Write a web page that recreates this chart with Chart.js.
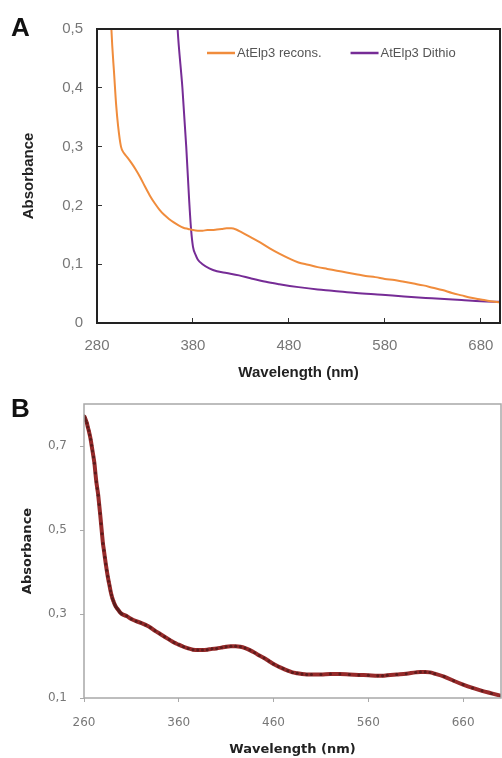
<!DOCTYPE html>
<html>
<head>
<meta charset="utf-8">
<script src="https://cdn.jsdelivr.net/npm/chart.js@4.4.1/dist/chart.umd.min.js"></script>
<style>
  html, body { margin: 0; padding: 0; background: #fff; }
  #page { position: relative; width: 502px; height: 758px; overflow: hidden; }
  .panel { position: absolute; left: 0; }
  .letter { position: absolute; left: 11px; font: bold 26px "Liberation Sans", Arial, sans-serif; color: #111; }
</style>
</head>
<body>
<div id="page">
  <canvas id="chartA" class="panel" width="502" height="384" style="top:0"></canvas>
  <canvas id="chartB" class="panel" width="502" height="374" style="top:384px"></canvas>
  <div class="letter" style="top:12px">A</div>
  <div class="letter" style="top:393px">B</div>
</div>
<script>
// ---- panel A data ----
var waveRecons = [290, 295, 298, 300, 302, 305, 308, 312, 316, 320, 325, 330, 335, 340, 345, 350, 355, 360, 365, 370,
  375, 380, 385, 390, 395, 400, 405, 410, 415, 420, 425, 430, 440, 450, 460, 470, 480, 490, 500, 510,
  520, 530, 540, 550, 560, 570, 580, 590, 600, 610, 620, 630, 640, 650, 660, 670, 680, 690, 700];
var absRecons = [0.75, 0.50, 0.42, 0.37, 0.335, 0.300, 0.289, 0.281, 0.272, 0.262, 0.248, 0.232, 0.217, 0.204, 0.193, 0.184, 0.177, 0.171, 0.166, 0.162,
  0.160, 0.158, 0.157, 0.157, 0.158, 0.158, 0.159, 0.160, 0.161, 0.161, 0.159, 0.155, 0.146, 0.137, 0.127, 0.118, 0.110, 0.103, 0.099, 0.095,
  0.092, 0.089, 0.086, 0.083, 0.080, 0.078, 0.075, 0.073, 0.070, 0.067, 0.064, 0.060, 0.056, 0.051, 0.047, 0.043, 0.040, 0.037, 0.035];

var waveDithio = [358, 364, 369, 373, 376, 378, 380, 383, 385, 390, 397, 405, 415, 428, 440, 456, 470, 490, 510, 525,
  550, 577, 600, 629, 660, 680, 700];
var absDithio = [0.70, 0.50, 0.40, 0.30, 0.21, 0.16, 0.13, 0.115, 0.108, 0.100, 0.093, 0.088, 0.085, 0.081, 0.076, 0.070, 0.066, 0.061, 0.057, 0.055,
  0.051, 0.048, 0.045, 0.042, 0.039, 0.037, 0.036];

var xTicksA = [280, 380, 480, 580, 680];
var yTicksA = [0, 0.1, 0.2, 0.3, 0.4, 0.5];

// ---- panel B data ----
var waveB = [260, 261, 262, 263, 264, 265, 266, 267, 268, 269, 270, 271, 272, 273, 274, 275, 276, 277, 278, 279,
  280, 281, 282, 283, 284, 285, 286, 287, 288, 289, 290, 291, 292, 293, 294, 295, 296, 297, 298, 299, 300,
  305, 310, 315, 320, 325, 330, 335, 340, 345, 350, 355, 360, 365, 370, 375, 380, 385, 390, 395,
  400, 405, 410, 415, 420, 425, 430, 435, 440, 445, 450, 455, 460, 465, 470, 475, 480, 485, 490, 495,
  500, 510, 520, 530, 540, 550, 560, 570, 575, 580, 590, 600, 610, 615, 620, 625, 630, 640, 650, 660,
  670, 680, 690, 700];
var absB = [0.772, 0.767, 0.761, 0.755, 0.745, 0.737, 0.727, 0.716, 0.702, 0.688, 0.674, 0.659, 0.636, 0.615, 0.599, 0.583, 0.561, 0.539, 0.515, 0.491,
  0.468, 0.452, 0.435, 0.419, 0.404, 0.390, 0.378, 0.367, 0.355, 0.345, 0.337, 0.331, 0.325, 0.320, 0.316, 0.313, 0.310, 0.307, 0.304, 0.302, 0.300,
  0.295, 0.288, 0.283, 0.279, 0.274, 0.268, 0.260, 0.253, 0.246, 0.239, 0.232, 0.227, 0.222, 0.218, 0.215, 0.214, 0.214, 0.215, 0.217,
  0.218, 0.220, 0.222, 0.223, 0.223, 0.222, 0.219, 0.214, 0.208, 0.201, 0.195, 0.188, 0.181, 0.175, 0.170, 0.165, 0.161, 0.159, 0.157, 0.156,
  0.156, 0.156, 0.157, 0.157, 0.156, 0.155, 0.154, 0.153, 0.153, 0.154, 0.156, 0.158, 0.161, 0.162, 0.162, 0.161, 0.158, 0.151, 0.141, 0.132,
  0.124, 0.117, 0.111, 0.105];

var xTicksB = [260, 360, 460, 560, 660];
var yTicksB = [0.1, 0.3, 0.5, 0.7];

function toPoints(xs, ys) {
  return xs.map(function (x, i) { return {x: x, y: ys[i]}; });
}
function commaLabel(v) {
  return v === 0 ? '0' : v.toFixed(1).replace('.', ',');
}
function fixTicks(list) {
  return function (scale) { scale.ticks = list.map(function (v) { return {value: v}; }); };
}
// pin the axis band size and drop the automatic label padding
function fixSize(prop, size) {
  return function (s) {
    s[prop] = size;
    s.paddingLeft = 0; s.paddingRight = 0; s.paddingTop = 0; s.paddingBottom = 0;
  };
}

// box round the plot area
var framePlugin = {
  id: 'frame',
  afterDatasetsDraw: function (chart, args, opts) {
    var a = chart.chartArea, c = chart.ctx;
    c.save();
    c.strokeStyle = opts.color;
    c.lineWidth = opts.width;
    c.strokeRect(a.left, a.top, a.right - a.left, a.bottom - a.top);
    c.restore();
  }
};

// legend drawn inside the plot area, as in the original
var insideLegend = {
  id: 'insideLegend',
  afterDraw: function (chart, args, opts) {
    if (!opts.show) return;
    var c = chart.ctx, a = chart.chartArea;
    var x = opts.x, y = a.top + opts.dy;
    c.save();
    c.font = '13px "Liberation Sans", Arial, sans-serif';
    c.textBaseline = 'middle';
    chart.data.datasets.forEach(function (ds) {
      c.strokeStyle = ds.borderColor;
      c.lineWidth = 2.5;
      c.beginPath();
      c.moveTo(x, y);
      c.lineTo(x + 28, y);
      c.stroke();
      c.fillStyle = '#555';
      c.fillText(ds.label, x + 30, y);
      x += 30 + c.measureText(ds.label).width + 29;
    });
    c.restore();
  }
};

var ctxA = document.getElementById('chartA').getContext('2d');
var chartA = new Chart(ctxA, {
  type: 'line',
  data: {
    datasets: [
      {
        label: 'AtElp3 recons.',
        data: toPoints(waveRecons, absRecons),
        borderColor: 'rgb(240, 140, 60)',
        borderWidth: 2,
        pointRadius: 0,
        cubicInterpolationMode: 'monotone'
      },
      {
        label: 'AtElp3 Dithio',
        data: toPoints(waveDithio, absDithio),
        borderColor: 'rgb(118, 44, 150)',
        borderWidth: 2,
        pointRadius: 0,
        cubicInterpolationMode: 'monotone'
      }
    ]
  },
  options: {
    responsive: false,
    animation: false,
    devicePixelRatio: 1,
    layout: {autoPadding: false, padding: {top: 29, right: 2, left: 0, bottom: 0}},
    plugins: {
      legend: {display: false},
      tooltip: {enabled: false},
      frame: {color: '#222', width: 2},
      insideLegend: {show: true, x: 207, dy: 24}
    },
    scales: {
      x: {
        type: 'linear', min: 280, max: 700,
        afterBuildTicks: fixTicks(xTicksA),
        afterFit: fixSize('height', 61),
        grid: {drawOnChartArea: false, drawTicks: true, tickLength: -5, color: '#333', lineWidth: 1},
        border: {display: false},
        ticks: {padding: 19, color: '#777', font: {family: '"Liberation Sans", Arial', size: 15}, maxRotation: 0},
        title: {display: true, text: 'Wavelength (nm)', color: '#222', padding: {top: 0, bottom: 2},
          font: {family: '"Liberation Sans", Arial', size: 15, weight: 'bold'}}
      },
      y: {
        min: 0, max: 0.5,
        afterBuildTicks: fixTicks(yTicksA),
        afterFit: fixSize('width', 97),
        grid: {drawOnChartArea: false, drawTicks: true, tickLength: -5, color: '#333', lineWidth: 1},
        border: {display: false},
        ticks: {padding: 19, color: '#777', font: {family: '"Liberation Sans", Arial', size: 15}, callback: commaLabel},
        title: {display: true, text: 'Absorbance', color: '#222', padding: {top: 20, bottom: 0},
          font: {family: '"Liberation Sans", Arial', size: 15, weight: 'bold'}}
      }
    }
  },
  plugins: [framePlugin, insideLegend]
});

var ctxB = document.getElementById('chartB').getContext('2d');
var chartB = new Chart(ctxB, {
  type: 'line',
  data: {
    datasets: [{
      label: 'Absorbance',
      data: toPoints(waveB, absB),
      borderColor: 'rgb(150, 42, 42)',
      borderWidth: 4,
      pointRadius: 1.5,
      pointBorderWidth: 0,
      pointBackgroundColor: '#5c1c1c',
      cubicInterpolationMode: 'monotone'
    }]
  },
  options: {
    responsive: false,
    animation: false,
    devicePixelRatio: 1,
    layout: {autoPadding: false, padding: {top: 20, right: 1, left: 0, bottom: 0}},
    plugins: {
      legend: {display: false},
      tooltip: {enabled: false},
      frame: {color: '#a8a8a8', width: 1.5},
      insideLegend: {show: false}
    },
    scales: {
      x: {
        type: 'linear', min: 260, max: 700,
        afterBuildTicks: fixTicks(xTicksB),
        afterFit: fixSize('height', 60),
        grid: {drawOnChartArea: false, drawTicks: true, tickLength: 4, color: '#aaa'},
        border: {display: false},
        ticks: {padding: 14, color: '#777', font: {family: '"DejaVu Sans"', size: 12}, maxRotation: 0},
        title: {display: true, text: 'Wavelength (nm)', color: '#222', padding: {top: 0, bottom: 1},
          font: {family: '"DejaVu Sans"', size: 13, weight: 'bold'}}
      },
      y: {
        min: 0.1, max: 0.8,
        afterBuildTicks: fixTicks(yTicksB),
        afterFit: fixSize('width', 84),
        grid: {drawOnChartArea: false, drawTicks: true, tickLength: 4, color: '#aaa'},
        border: {display: false},
        ticks: {padding: 13, color: '#777', font: {family: '"DejaVu Sans"', size: 12}, callback: commaLabel},
        title: {display: true, text: 'Absorbance', color: '#222', padding: {top: 20, bottom: 0},
          font: {family: '"DejaVu Sans"', size: 13, weight: 'bold'}}
      }
    }
  },
  plugins: [framePlugin, insideLegend]
});
</script>
</body>
</html>
